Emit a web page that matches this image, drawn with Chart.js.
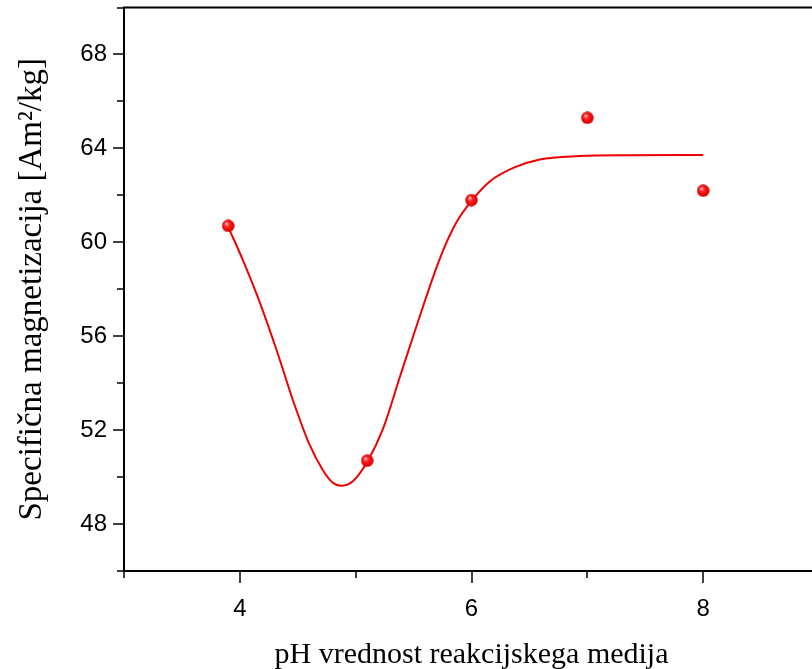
<!DOCTYPE html>
<html>
<head>
<meta charset="utf-8">
<script src="https://cdn.jsdelivr.net/npm/chart.js@4"></script>
<style>
    html, body { margin: 0; padding: 0; overflow: hidden; background: #fff; }
    #wrap { width: 812px; height: 669px; overflow: hidden; }
</style>
</head>
<body>
<div id="wrap"><canvas id="magChart" width="830" height="669"></canvas></div>
<script>
// measured points
const phValues = [3.9, 5.1, 6.0, 7.0, 8.0];
const magValues = [60.7, 50.7, 61.8, 65.3, 62.2];

// fitted curve
const fitX = [3.9, 4.03, 4.16, 4.32, 4.46, 4.6, 4.72, 4.8, 4.88, 4.98, 5.1, 5.24, 5.38, 5.5, 5.73, 5.87, 6.0, 6.16, 6.36, 6.59, 6.93, 7.37, 8.0];
const fitY = [60.65, 59.2, 57.6, 55.37, 53.25, 51.4, 50.27, 49.77, 49.63, 49.84, 50.65, 52.11, 54.24, 56.05, 59.35, 60.85, 61.76, 62.6, 63.17, 63.53, 63.67, 63.71, 63.72];

// labelled (major) ticks
const xTickLabels = [4, 6, 8];
const yTickLabels = [48, 52, 56, 60, 64, 68];

function makeBall(d) {
    const c = document.createElement('canvas');
    c.width = d;
    c.height = d;
    const g = c.getContext('2d');
    const r = d / 2;
    const grad = g.createRadialGradient(r * 0.7, r * 0.65, 0.4, r, r, r);
    grad.addColorStop(0, '#ffd0d8');
    grad.addColorStop(0.3, '#ff2a2a');
    grad.addColorStop(0.8, '#e80000');
    grad.addColorStop(1, '#b80000');
    g.fillStyle = grad;
    g.beginPath();
    g.arc(r, r, r - 0.3, 0, Math.PI * 2);
    g.fill();
    return c;
}

// box frame + outward ticks like the original plot
const axisFrame = {
    id: 'axisFrame',
    afterDraw(chart) {
        const { ctx, chartArea: a, scales: { x, y } } = chart;
        ctx.save();
        ctx.strokeStyle = '#000';
        ctx.lineWidth = 2;
        ctx.strokeRect(a.left, a.top, a.right - a.left, a.bottom - a.top);
        ctx.lineWidth = 1.5;
        ctx.beginPath();
        x.ticks.forEach(t => {
            const px = Math.round(x.getPixelForValue(t.value));
            const len = xTickLabels.includes(t.value) ? 12 : 7;
            ctx.moveTo(px, a.bottom);
            ctx.lineTo(px, a.bottom + len);
        });
        y.ticks.forEach(t => {
            const py = Math.round(y.getPixelForValue(t.value));
            const len = yTickLabels.includes(t.value) ? 11 : 7;
            ctx.moveTo(a.left, py);
            ctx.lineTo(a.left - len, py);
        });
        ctx.stroke();
        ctx.restore();
    }
};

window.addEventListener('load', function () {
    const ctx = document.getElementById('magChart').getContext('2d');

    const points = phValues.map((v, i) => ({ x: v, y: magValues[i] }));
    const curve = fitX.map((v, i) => ({ x: v, y: fitY[i] }));

    const config = {
        type: 'scatter',
        data: {
            datasets: [{
                label: 'meritve',
                data: points,
                pointStyle: makeBall(13),
                pointRadius: 6.5,
                showLine: false
            }, {
                label: 'fit',
                type: 'line',
                data: curve,
                borderColor: '#f00000',
                borderWidth: 2,
                pointRadius: 0,
                fill: false,
                cubicInterpolationMode: 'monotone'
            }]
        },
        options: {
            responsive: false,
            animation: false,
            layout: { padding: { top: 7, right: 11, left: 0, bottom: 0 } },
            plugins: {
                legend: { display: false },
                tooltip: { enabled: false }
            },
            scales: {
                x: {
                    type: 'linear',
                    min: 3,
                    max: 9,
                    border: { display: false },
                    grid: { display: false, drawTicks: false },
                    ticks: {
                        stepSize: 1,
                        autoSkip: false,
                        maxRotation: 0,
                        padding: 24,
                        color: '#000',
                        font: { family: 'Liberation Sans', size: 24 },
                        callback: v => xTickLabels.includes(v) ? String(v) : ''
                    },
                    title: {
                        display: true,
                        text: 'pH vrednost reakcijskega medija',
                        color: '#000',
                        font: { family: 'Liberation Serif', size: 30, lineHeight: 1 },
                        padding: { top: 0, bottom: -1 }
                    },
                    afterFit: s => {
                        s.height = 98;
                        s.paddingLeft = 0;
                        s.paddingRight = 0;
                    }
                },
                y: {
                    min: 46,
                    max: 70,
                    border: { display: false },
                    grid: { display: false, drawTicks: false },
                    ticks: {
                        stepSize: 2,
                        autoSkip: false,
                        padding: 17,
                        color: '#000',
                        font: { family: 'Liberation Sans', size: 24 },
                        callback: v => yTickLabels.includes(v) ? String(v) : ''
                    },
                    title: {
                        display: true,
                        text: 'Specifična magnetizacija [Am²/kg]',
                        color: '#000',
                        font: { family: 'Liberation Serif', size: 33, lineHeight: 1.2 },
                        padding: { top: 13, bottom: 0 }
                    },
                    afterFit: s => {
                        s.width = 124;
                        s.paddingTop = 0;
                        s.paddingBottom = 0;
                    }
                }
            }
        },
        plugins: [axisFrame]
    };
    new Chart(ctx, config);
});
</script>
</body>
</html>
